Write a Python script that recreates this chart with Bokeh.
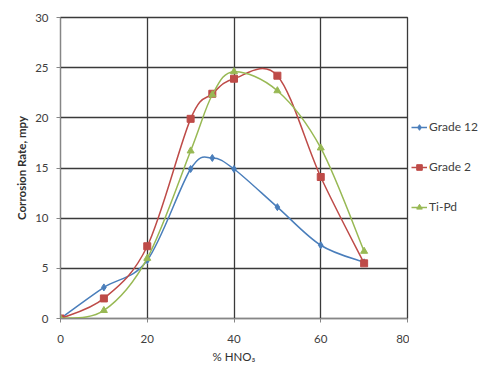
from bokeh.plotting import figure
from bokeh.layouts import row
from bokeh.models import Legend, LegendItem, ColumnDataSource, Range1d, FixedTicker
from bokeh.embed import file_html
from bokeh.resources import INLINE

hno3 = [0, 10, 20, 30, 35, 40, 50, 60, 70]
grade12 = [0.0, 3.1, 5.8, 14.9, 16.0, 14.9, 11.1, 7.3, 5.6]
grade2 = [0.0, 2.0, 7.2, 19.9, 22.4, 23.9, 24.2, 14.1, 5.5]
tipd = [0.0, 0.8, 6.0, 16.7, 22.3, 24.6, 22.7, 17.0, 6.7]
names = ["Grade 12", "Grade 2", "Ti-Pd"]
colors = ["#4A7EBB", "#BE4B48", "#98B954"]
x_ticks = [0, 20, 40, 60, 80]
y_ticks = [0, 5, 10, 15, 20, 25, 30]

FONT = "Lato"

p = figure(width=409, height=365, output_backend="svg", toolbar_location=None,
           x_range=Range1d(0, 80), y_range=Range1d(0, 30),
           min_border_left=60, min_border_top=17, min_border_bottom=47, min_border_right=2)
p.background_fill_color = "white"
p.outline_line_color = "#3a3a3a"
p.outline_line_width = 1.3

# legend-only figure: its ranges keep the series out of view, only the legend keys show
p2 = figure(width=70, height=365, output_backend="svg", toolbar_location=None,
            x_range=Range1d(-200, -199), y_range=Range1d(-200, -199),
            min_border=0)
p2.axis.visible = False
p2.grid.visible = False
p2.outline_line_color = None


def smooth(xs, ys):
    n = len(xs)
    px = [xs[0]] + list(xs) + [xs[-1]]
    py = [ys[0]] + list(ys) + [ys[-1]]
    d = dict(x0=[], y0=[], x1=[], y1=[], cx0=[], cy0=[], cx1=[], cy1=[])
    for i in range(1, n):
        d["x0"].append(px[i]); d["y0"].append(py[i])
        d["x1"].append(px[i + 1]); d["y1"].append(py[i + 1])
        d["cx0"].append(px[i] + (px[i + 1] - px[i - 1]) / 6)
        d["cy0"].append(py[i] + (py[i + 1] - py[i - 1]) / 6)
        d["cx1"].append(px[i + 1] - (px[i + 2] - px[i]) / 6)
        d["cy1"].append(py[i + 1] - (py[i + 2] - py[i]) / 6)
    return d


items = []
markers = ["diamond", "square", "triangle"]
sizes = [7, 7, 7]
for ys, name, col, mk, sz in zip([grade12, grade2, tipd], names, colors, markers, sizes):
    src = ColumnDataSource(smooth(hno3, ys))
    p.bezier(x0="x0", y0="y0", x1="x1", y1="y1", cx0="cx0", cy0="cy0",
             cx1="cx1", cy1="cy1", source=src, line_color=col, line_width=1.5)
    p.scatter(hno3, ys, marker=mk, size=sz, fill_color=col, line_color=col)
    ln = p2.line(hno3, ys, line_color=col, line_width=1.5)
    sc = p2.scatter(hno3, ys, marker=mk, size=sz, fill_color=col, line_color=col)
    items.append(LegendItem(label=name, renderers=[ln, sc]))

legend = Legend(items=items, location=(2, 104), border_line_color=None,
                background_fill_alpha=0, label_text_font=FONT, label_text_font_size="12px",
                label_text_color="#404040", glyph_width=16, glyph_height=14,
                spacing=25, padding=0, margin=0, label_standoff=2)
p2.add_layout(legend, "center")

p.xgrid.grid_line_color = "#3a3a3a"
p.ygrid.grid_line_color = "#3a3a3a"
p.xgrid.grid_line_width = 1.3
p.ygrid.grid_line_width = 1.3
p.xaxis.ticker = FixedTicker(ticks=x_ticks)
p.yaxis.ticker = FixedTicker(ticks=y_ticks)
p.xgrid.ticker = FixedTicker(ticks=x_ticks)
p.ygrid.ticker = FixedTicker(ticks=y_ticks)

for ax in (p.xaxis, p.yaxis):
    ax.axis_line_color = "#868686"
    ax.major_tick_line_color = "#868686"
    ax.minor_tick_line_color = None
    ax.major_tick_in = 0
    ax.major_tick_out = 4
    ax.major_label_text_font = FONT
    ax.major_label_text_font_size = "11.5px"
    ax.major_label_text_color = "#404040"
    ax.axis_label_text_font = FONT
    ax.axis_label_text_font_size = "11.5px"
    ax.axis_label_text_font_style = "bold"
    ax.axis_label_text_color = "#303030"

p.xaxis.axis_label = "% HNO₃"
p.xaxis.axis_label_text_font_style = "normal"
p.yaxis.axis_label = "Corrosion Rate, mpy"
p.xaxis.major_label_standoff = 12
p.yaxis.major_label_standoff = 8
p.xaxis.axis_label_standoff = 4
p.yaxis.axis_label_standoff = 4

layout = row(p, p2)
open("out.html", "w").write(file_html(layout, INLINE))
